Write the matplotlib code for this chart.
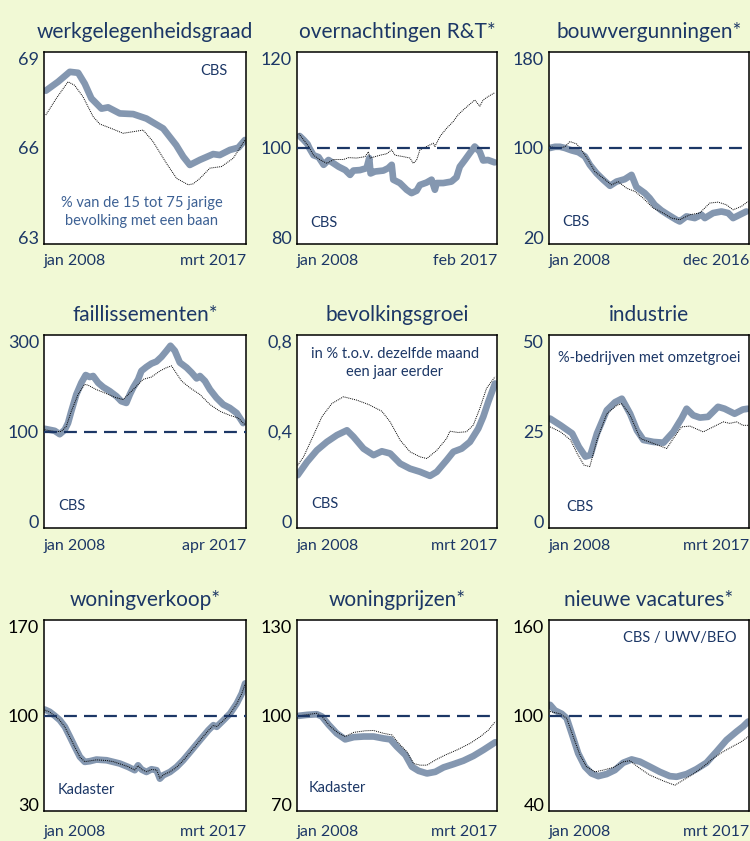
import numpy as np
import matplotlib
matplotlib.use("Agg")
import matplotlib.pyplot as plt

plt.rcParams['font.family'] = ['Lato', 'DejaVu Sans']

NAVY = '#1c3766'
THICK = '#8497b0'
BG = '#f1f9d5'
NOTE = '#3d6194'

# ---- werkgelegenheidsgraad (% of 15-75 year olds with a job)
werk_x = [2008.08, 2008.64, 2009.17, 2009.55, 2009.85, 2010.15, 2010.61, 2010.91, 2011.44, 2012.05,
          2012.65, 2013.41, 2014.0, 2014.32, 2014.62, 2015.08, 2015.68, 2015.98, 2016.44, 2016.82, 2017.12]
werk_y = [67.79, 68.07, 68.38, 68.35, 68.01, 67.55, 67.23, 67.27, 67.08, 67.06,
          66.92, 66.61, 66.09, 65.73, 65.47, 65.63, 65.81, 65.78, 65.94, 66.01, 66.25]
werk_tx = [2008.08, 2008.56, 2009.09, 2009.39, 2009.77, 2010.23, 2010.53, 2011.06, 2011.59, 2012.05,
           2012.5, 2012.95, 2013.56, 2014.02, 2014.55, 2014.77, 2015.08, 2015.53, 2016.06, 2016.59, 2017.12]
werk_ty = [67.03, 67.55, 68.07, 67.96, 67.60, 66.98, 66.75, 66.61, 66.46, 66.51,
           66.56, 66.20, 65.52, 65.05, 64.85, 64.88, 65.05, 65.37, 65.42, 65.68, 66.25]

# ---- overnachtingen R&T* (index)
over_x = [2008.12, 2008.30, 2008.48, 2008.57, 2008.75, 2008.98, 2009.21, 2009.43, 2009.66, 2009.89,
          2010.19, 2010.41, 2010.56, 2010.86, 2011.16, 2011.28, 2011.34, 2011.54, 2011.92, 2012.14,
          2012.30, 2012.37, 2012.67, 2012.98, 2013.20, 2013.43, 2013.58, 2013.88, 2014.11, 2014.26,
          2014.34, 2014.64, 2015.01, 2015.24, 2015.39, 2015.62, 2015.84, 2016.07, 2016.30, 2016.45,
          2016.67, 2016.97]
over_y = [102.5, 101.7, 100.8, 99.9, 98.5, 98.1, 96.5, 97.5, 96.8, 96.1,
          95.4, 94.4, 95.3, 95.4, 95.8, 97.9, 94.7, 95.1, 95.3, 95.8,
          96.5, 93.4, 92.7, 91.3, 90.6, 91.1, 92.3, 92.8, 93.4, 91.3,
          92.7, 92.7, 93.0, 93.9, 96.1, 97.5, 98.9, 100.3, 99.2, 97.4,
          97.5, 97.0]
over_tx = [2008.08, 2008.30, 2008.53, 2008.75, 2009.06, 2009.36, 2009.66, 2010.11, 2010.34, 2010.71,
           2011.09, 2011.24, 2011.32, 2011.77, 2012.07, 2012.30, 2012.45, 2012.83, 2013.13, 2013.28,
           2013.43, 2013.58, 2013.88, 2014.19, 2014.26, 2014.49, 2014.79, 2015.09, 2015.31, 2015.54,
           2015.84, 2016.07, 2016.30, 2016.45, 2016.67, 2016.97]
over_ty = [103.0, 101.7, 100.3, 98.5, 97.5, 96.8, 97.6, 97.6, 98.0, 97.9,
           98.2, 99.2, 97.9, 98.5, 98.8, 99.6, 98.5, 98.2, 97.9, 96.8,
           97.5, 99.6, 100.3, 101.0, 100.3, 102.4, 104.1, 105.5, 106.9, 107.9,
           109.1, 110.0, 108.7, 110.0, 110.7, 111.5]

# ---- bouwvergunningen* (index)
bouw_x = [2008.04, 2008.27, 2008.49, 2008.71, 2009.01, 2009.31, 2009.60, 2009.82, 2010.12, 2010.42,
          2010.72, 2011.01, 2011.38, 2011.68, 2011.90, 2012.27, 2012.49, 2012.71, 2013.01, 2013.31,
          2013.68, 2013.83, 2014.13, 2014.50, 2014.80, 2014.95, 2015.32, 2015.69, 2015.99, 2016.21,
          2016.51, 2016.80]
bouw_y = [100, 101, 101, 100, 98, 96.5, 93, 86, 79, 73.5,
          68.5, 72, 74, 77.6, 67.4, 62.4, 58.2, 52.7, 48, 44.4,
          40.2, 38.8, 43, 41.6, 44.4, 41.6, 45.8, 47.1, 45.8, 41.6,
          44.4, 47.1]
bouw_tx = [2008.04, 2008.42, 2008.71, 2008.93, 2009.23, 2009.45, 2009.75, 2010.04, 2010.42, 2010.79,
           2011.08, 2011.46, 2011.83, 2012.20, 2012.65, 2013.09, 2013.46, 2013.83, 2014.28, 2014.72,
           2015.17, 2015.54, 2015.91, 2016.21, 2016.58, 2016.88]
bouw_ty = [101, 100, 101, 105.4, 103.4, 98.4, 90, 80.4, 74.8, 69.3,
           72, 66.5, 63.8, 58.2, 49.9, 45.8, 41.6, 40.2, 44.4, 45.8,
           54.1, 54.9, 52.7, 48.5, 51.3, 55.5]

# ---- faillissementen* (index)
fail_x = [2008.03, 2008.26, 2008.49, 2008.72, 2008.95, 2009.10, 2009.25, 2009.48, 2009.71, 2009.91,
          2010.09, 2010.25, 2010.48, 2010.71, 2011.01, 2011.32, 2011.54, 2011.77, 2011.93, 2012.08,
          2012.31, 2012.46, 2012.69, 2012.92, 2013.15, 2013.38, 2013.61, 2013.79, 2013.99, 2014.22,
          2014.53, 2014.76, 2014.99, 2015.14, 2015.37, 2015.60, 2015.90, 2016.21, 2016.51, 2016.82,
          2017.12]
fail_y = [105.6, 103.5, 101.4, 97.2, 103.5, 117.4, 141.8, 176.7, 201, 217,
          213, 215, 201, 192, 183.6, 173, 162.7, 159.2, 176.7, 190.6,
          208, 225.5, 233.8, 240.8, 245, 254.7, 267.3, 277.7, 267.3, 242.9,
          232.4, 222, 210, 215, 204.6, 187, 169.7, 155.8, 148.8, 138.3,
          117.4]
fail_tx = [2008.03, 2008.49, 2008.79, 2009.02, 2009.25, 2009.56, 2009.86, 2010.01, 2010.39, 2010.78,
           2011.24, 2011.62, 2011.93, 2012.24, 2012.54, 2012.92, 2013.31, 2013.61, 2013.84, 2013.99,
           2014.30, 2014.68, 2015.14, 2015.60, 2016.06, 2016.51, 2016.90, 2017.20]
fail_ty = [103.5, 100, 100, 110.5, 141.8, 176.7, 197.6, 196.2, 187, 180,
           171, 166.2, 180, 194, 208, 212.9, 225.5, 232.4, 236, 225.5,
           204.6, 190.6, 176.7, 155.8, 141.8, 133.5, 127.9, 114]

# ---- bevolkingsgroei (% y/y)
bev_x = [2008.03, 2008.46, 2008.91, 2009.37, 2009.83, 2010.29, 2010.59, 2011.05, 2011.51, 2011.89,
         2012.27, 2012.73, 2013.18, 2013.64, 2014.10, 2014.41, 2014.86, 2015.17, 2015.55, 2015.93,
         2016.31, 2016.54, 2016.77, 2017.08]
bev_y = [0.219, 0.274, 0.322, 0.357, 0.385, 0.405, 0.378, 0.329, 0.302, 0.318,
         0.309, 0.267, 0.246, 0.233, 0.216, 0.233, 0.281, 0.316, 0.329, 0.357,
         0.412, 0.461, 0.523, 0.599]
bev_tx = [2008.03, 2008.30, 2008.69, 2009.14, 2009.60, 2010.13, 2010.74, 2011.28, 2011.89, 2012.27,
          2012.73, 2013.18, 2013.64, 2013.95, 2014.41, 2014.86, 2015.01, 2015.39, 2015.77, 2016.08,
          2016.38, 2016.69, 2017.08]
bev_ty = [0.260, 0.295, 0.371, 0.461, 0.516, 0.544, 0.530, 0.512, 0.484, 0.440,
          0.364, 0.316, 0.295, 0.288, 0.322, 0.371, 0.401, 0.396, 0.399, 0.426,
          0.495, 0.579, 0.627]

# ---- industrie (% firms with turnover growth)
ind_x = [2008.05, 2008.53, 2009.06, 2009.37, 2009.67, 2009.90, 2010.20, 2010.65, 2011.03, 2011.34,
         2011.72, 2012.03, 2012.33, 2012.79, 2013.25, 2013.70, 2014.08, 2014.31, 2014.61, 2014.92,
         2015.29, 2015.75, 2016.05, 2016.51, 2016.89, 2017.12]
ind_y = [28.35, 26.6, 24.5, 21.0, 18.5, 18.9, 24.5, 30.5, 32.6, 33.5,
         29.6, 25.3, 22.8, 22.3, 22.1, 24.9, 28.4, 30.9, 29.2, 28.6,
         28.8, 31.4, 30.9, 29.6, 30.7, 30.9]
ind_tx = [2008.05, 2008.53, 2008.99, 2009.29, 2009.60, 2009.87, 2010.20, 2010.65, 2011.11, 2011.34,
          2011.72, 2012.18, 2012.79, 2013.40, 2013.70, 2014.08, 2014.46, 2015.07, 2015.53, 2015.99,
          2016.29, 2016.60, 2016.89, 2017.12]
ind_ty = [26.2, 24.9, 22.8, 19.3, 16.3, 15.9, 22.8, 29.6, 31.8, 32.2,
          29.2, 23.2, 21.9, 20.6, 23.2, 26.2, 26.4, 24.9, 26.2, 27.5,
          27.1, 27.5, 26.6, 26.6]

# ---- woningverkoop* (index)
wv_x = [2008.03, 2008.26, 2008.49, 2008.72, 2008.95, 2009.18, 2009.40, 2009.63, 2009.85, 2010.08,
        2010.38, 2010.84, 2011.14, 2011.44, 2011.82, 2012.12, 2012.27, 2012.43, 2012.65, 2012.88,
        2013.11, 2013.26, 2013.41, 2013.72, 2014.02, 2014.32, 2014.70, 2015.08, 2015.46, 2015.69,
        2015.84, 2016.15, 2016.45, 2016.75, 2016.98, 2017.13]
wv_y = [104.4, 102.7, 99.8, 96.6, 91.7, 84.3, 77.0, 69.7, 66.0, 66.5,
        67.7, 67.2, 66.0, 64.8, 62.3, 59.9, 63.5, 60.4, 58.6, 60.6,
        59.9, 53.7, 56.2, 58.6, 62.3, 67.2, 74.5, 81.9, 89.2, 92.9,
        91.7, 96.6, 101.5, 108.8, 116.2, 123.5]
wv_tx = [2008.03, 2008.26, 2008.49, 2008.72, 2008.95, 2009.18, 2009.40, 2009.63, 2009.85, 2010.08,
         2010.38, 2010.84, 2011.14, 2011.44, 2011.82, 2012.12, 2012.27, 2012.43, 2012.65, 2012.88,
         2013.11, 2013.26, 2013.41, 2013.72, 2014.02, 2014.32, 2014.70, 2015.08, 2015.46, 2015.69,
         2015.84, 2016.15, 2016.45, 2016.75, 2016.98, 2017.13]
wv_ty = [104.0, 102.5, 99.6, 96.4, 91.5, 84.0, 76.8, 69.5, 66.2, 66.7,
         67.5, 67.0, 66.2, 64.6, 62.5, 60.1, 63.2, 60.6, 58.8, 60.4,
         60.1, 54.0, 56.4, 58.8, 62.1, 67.0, 74.3, 81.7, 89.0, 92.7,
         91.9, 96.4, 101.3, 108.6, 116.0, 123.2]

# ---- woningprijzen* (index)
wp_x = [2008.08, 2008.46, 2008.91, 2009.14, 2009.45, 2009.82, 2010.21, 2010.60, 2011.06, 2011.51,
        2011.97, 2012.28, 2012.58, 2012.97, 2013.27, 2013.58, 2013.96, 2014.34, 2014.72, 2015.17,
        2015.63, 2016.09, 2016.55, 2017.09]
wp_y = [99.9, 100.2, 100.4, 99.7, 97.1, 94.4, 92.5, 93.2, 93.4, 93.4,
        92.8, 92.5, 90.2, 87.6, 83.9, 82.6, 81.8, 82.3, 83.7, 84.7,
        85.8, 87.3, 89.2, 91.6]
wp_tx = [2008.08, 2008.91, 2009.14, 2009.53, 2009.91, 2010.21, 2010.60, 2011.13, 2011.51, 2011.97,
         2012.35, 2012.66, 2013.04, 2013.35, 2013.65, 2013.96, 2014.34, 2014.80, 2015.34, 2015.95,
         2016.41, 2016.79, 2017.09]
wp_ty = [99.9, 100.7, 99.7, 96.5, 94.4, 93.4, 94.7, 95.2, 95.3, 94.4,
         93.9, 91.3, 88.6, 84.9, 84.4, 84.4, 86.0, 87.6, 89.2, 91.3,
         93.4, 95.5, 98.1]

# ---- nieuwe vacatures* (index)
vac_x = [2008.05, 2008.27, 2008.58, 2008.81, 2009.04, 2009.34, 2009.65, 2009.95, 2010.26, 2010.64,
         2011.02, 2011.40, 2011.79, 2012.17, 2012.63, 2013.08, 2013.54, 2013.85, 2014.31, 2014.76,
         2015.22, 2015.68, 2016.14, 2016.60, 2016.90, 2017.13]
vac_y = [106.7, 103.2, 101.1, 98.3, 88.8, 76.2, 67.8, 63.6, 61.9, 63.2,
         65.7, 70.3, 72.4, 71.0, 67.8, 64.6, 61.9, 61.5, 63.2, 66.3,
         70.3, 77.3, 84.6, 89.9, 93.1, 96.2]
vac_tx = [2008.05, 2008.50, 2008.81, 2009.11, 2009.42, 2009.72, 2010.11, 2010.49, 2010.95, 2011.40,
          2011.71, 2012.17, 2012.63, 2013.24, 2013.77, 2014.15, 2014.61, 2015.07, 2015.53, 2015.99,
          2016.45, 2016.83, 2017.13]
vac_ty = [102.5, 101.1, 98.3, 86.7, 75.2, 67.8, 64.6, 65.7, 67.4, 70.9,
          71.6, 66.7, 62.5, 58.9, 56.2, 59.4, 63.2, 67.8, 73.1, 77.3,
          80.8, 83.6, 86.7]


# failures axis: 0-100 on the lower half, 100-300 on the upper half
def fail_fwd(y):
    y = np.asarray(y, dtype=float)
    return np.where(y <= 100, y / 100.0, 1 + (y - 100) / 200.0)


def fail_inv(t):
    t = np.asarray(t, dtype=float)
    return np.where(t <= 1, t * 100.0, 100 + (t - 1) * 200.0)


panels = [
    dict(title='werkgelegenheidsgraad', x=werk_x, y=werk_y, tx=werk_tx, ty=werk_ty,
         xr=(2008.0, 2017.17), yr=(63, 69), ticks=[63, 66, 69], labels=['63', '66', '69'],
         end='mrt 2017', ref=None,
         notes=[('CBS', 0.84, 0.90, 'center', NAVY),
                ('% van de 15 tot 75 jarige\nbevolking met een baan', 0.485, 0.165, 'center', NOTE)]),
    dict(title='overnachtingen R&T*', x=over_x, y=over_y, tx=over_tx, ty=over_ty,
         xr=(2008.0, 2017.08), yr=(80, 120), ticks=[80, 100, 120], labels=['80', '100', '120'],
         end='feb 2017', ref=100, notes=[('CBS', 0.065, 0.11, 'left', NAVY)]),
    dict(title='bouwvergunningen*', x=bouw_x, y=bouw_y, tx=bouw_tx, ty=bouw_ty,
         xr=(2008.0, 2016.92), yr=(20, 180), ticks=[20, 100, 180], labels=['20', '100', '180'],
         end='dec 2016', ref=100, notes=[('CBS', 0.065, 0.115, 'left', NAVY)]),
    dict(title='faillissementen*', x=fail_x, y=fail_y, tx=fail_tx, ty=fail_ty,
         xr=(2008.0, 2017.25), yr=(0, 300), ticks=[0, 100, 300], labels=['0', '100', '300'],
         end='apr 2017', ref=100, scale=True, notes=[('CBS', 0.07, 0.115, 'left', NAVY)]),
    dict(title='bevolkingsgroei', x=bev_x, y=bev_y, tx=bev_tx, ty=bev_ty,
         xr=(2008.0, 2017.17), yr=(0, 0.8), ticks=[0, 0.4, 0.8], labels=['0', '0,4', '0,8'],
         end='mrt 2017', ref=None,
         notes=[('in % t.o.v. dezelfde maand\neen jaar eerder', 0.49, 0.855, 'center', NAVY),
                ('CBS', 0.07, 0.125, 'left', NAVY)]),
    dict(title='industrie', x=ind_x, y=ind_y, tx=ind_tx, ty=ind_ty,
         xr=(2008.0, 2017.17), yr=(0, 50), ticks=[0, 25, 50], labels=['0', '25', '50'],
         end='mrt 2017', ref=None,
         notes=[('%-bedrijven met omzetgroei', 0.50, 0.88, 'center', NAVY),
                ('CBS', 0.085, 0.11, 'left', NAVY)]),
    dict(title='woningverkoop*', x=wv_x, y=wv_y, tx=wv_tx, ty=wv_ty,
         xr=(2008.0, 2017.17), yr=(30, 170), ticks=[30, 100, 170], labels=['30', '100', '170'],
         end='mrt 2017', ref=100, tickcolor='black',
         notes=[('Kadaster', 0.065, 0.11, 'left', NAVY)]),
    dict(title='woningprijzen*', x=wp_x, y=wp_y, tx=wp_tx, ty=wp_ty,
         xr=(2008.0, 2017.17), yr=(70, 130), ticks=[70, 100, 130], labels=['70', '100', '130'],
         end='mrt 2017', ref=100, tickcolor='black',
         notes=[('Kadaster', 0.06, 0.12, 'left', NAVY)]),
    dict(title='nieuwe vacatures*', x=vac_x, y=vac_y, tx=vac_tx, ty=vac_ty,
         xr=(2008.0, 2017.17), yr=(40, 160), ticks=[40, 100, 160], labels=['40', '100', '160'],
         end='mrt 2017', ref=100, tickcolor='black',
         notes=[('CBS / UWV/BEO', 0.655, 0.905, 'center', NAVY)]),
]

W, H = 750, 841
cols = [(44, 246), (297, 497), (549, 749)]
rows = [(52, 244), (335, 528), (620, 811)]
xlab_off = [-7, -8, -10]

fig = plt.figure(figsize=(W / 100, H / 100), dpi=100, facecolor=BG)

for i, p in enumerate(panels):
    r, c = divmod(i, 3)
    x0, x1 = cols[c]
    y0, y1 = rows[r]
    ax = fig.add_axes([x0 / W, 1 - y1 / H, (x1 - x0) / W, (y1 - y0) / H])
    ax.set_facecolor('white')
    if p.get('scale'):
        ax.set_yscale('function', functions=(fail_fwd, fail_inv))

    ax.plot(p['x'], p['y'], color=THICK, lw=4.8, solid_joinstyle='round',
            solid_capstyle='round', zorder=2)
    ax.plot(p['tx'], p['ty'], color='black', lw=0.7, ls=(0, (1, 1)), zorder=3)
    if p['ref'] is not None:
        ax.axhline(p['ref'], color=NAVY, lw=1.6, dashes=(5.8, 3.2), zorder=4)

    ax.set_xlim(*p['xr'])
    ax.set_ylim(*p['yr'])
    ax.set_xticks([])
    ax.set_yticks(p['ticks'])
    ax.set_yticklabels(p['labels'])
    ax.tick_params(axis='y', length=0, pad=3.5, labelsize=13,
                   labelcolor=p.get('tickcolor', NAVY))
    tl = ax.get_yticklabels()
    tl[0].set_va('baseline')
    tl[-1].set_va('top')
    for s in ax.spines.values():
        s.set_color('black')
        s.set_linewidth(1.1)

    ax.set_title(p['title'], color=NAVY, fontsize=15, pad=10)

    ax.annotate('jan 2008', xy=(0, 0), xycoords='axes fraction', xytext=(0, xlab_off[r]),
                textcoords='offset points', ha='left', va='top', fontsize=11.5, color=NAVY)
    ax.annotate(p['end'], xy=(1, 0), xycoords='axes fraction', xytext=(0, xlab_off[r]),
                textcoords='offset points', ha='right', va='top', fontsize=11.5, color=NAVY)

    for txt, fx, fy, ha, col in p['notes']:
        ax.text(fx, fy, txt, transform=ax.transAxes, ha=ha, va='center',
                fontsize=10.5, color=col, linespacing=1.35)

fig.savefig('out.png', dpi=100, facecolor=BG)
